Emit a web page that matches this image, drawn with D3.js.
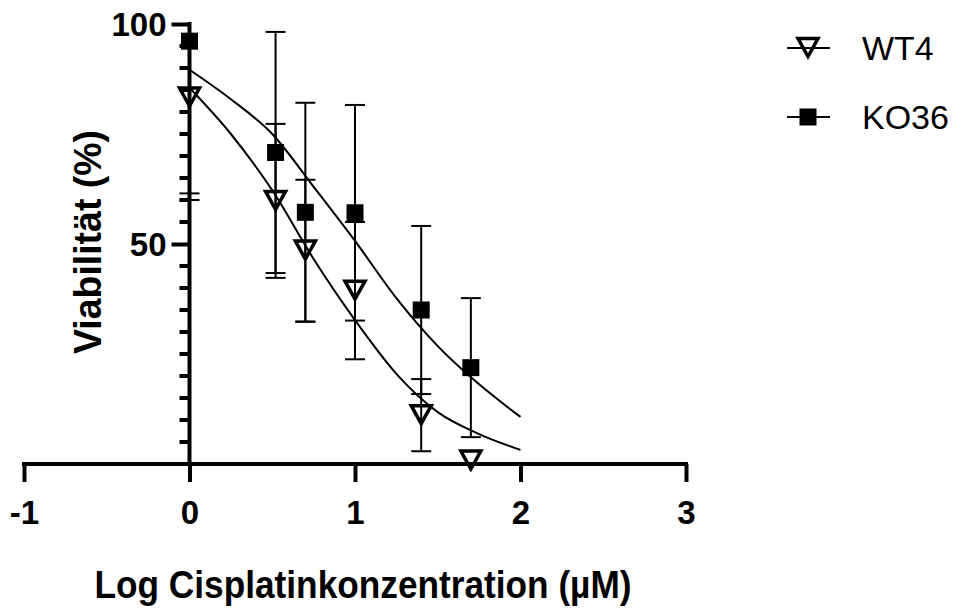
<!DOCTYPE html>
<html>
<head>
<meta charset="utf-8">
<script src="https://cdn.jsdelivr.net/npm/d3@7"></script>
<style>
  body { margin: 0; background: #fff; }
  text { font-family: Arial, "Liberation Sans", sans-serif; fill: #000; }
</style>
</head>
<body>
<svg id="chart" width="966" height="609"></svg>
<script>
// log cisplatin concentration (µM)
var logConc = [0, 0.52, 0.7, 1, 1.4, 1.7];
var wt4Mean = [83.3, 59.8, 48.5, 39.4, 11.1, 0.8];
var wt4Sd = [21.8, 17.5, 16.1, 15.6, 8.2, 0];
var ko36Mean = [96.1, 70.8, 57.2, 57.1, 35, 21.9];
var ko36Sd = [36.1, 27.4, 24.9, 24.5, 19.1, 15.8];

// fitted curves
var fitX = [0, 0.25, 0.5, 0.75, 1, 1.25, 1.5, 1.75, 2];
var wt4Fit = [85.5, 75, 62.2, 46.6, 32.7, 20.5, 11.8, 6.8, 3.2];
var ko36Fit = [89.6, 82.9, 75, 63, 50.7, 37.7, 26.8, 18.1, 10.7];

var xTicks = [-1, 0, 1, 2, 3];
var yMajor = [50, 100];
var yMinor = [5, 10, 15, 20, 25, 30, 35, 40, 45, 55, 60, 65, 70, 75, 80, 85, 90, 95];
var seriesNames = ["WT4", "KO36"];

var svg = d3.select("#chart");

var x = d3.scaleLinear().domain([-1, 3]).range([24, 686]);
var y = d3.scaleLinear().domain([0, 100]).range([464, 24]);

var tri = "M-10,-9.5L10,-9.5L0,8.5Z";

function drawTri(g, cx, cy) {
  g.append("path")
    .attr("d", tri)
    .attr("transform", "translate(" + cx + "," + cy + ")")
    .attr("fill", "none")
    .attr("stroke", "#000")
    .attr("stroke-width", 3.5)
    .attr("stroke-linejoin", "miter");
}

function drawSquare(g, cx, cy) {
  g.append("rect")
    .attr("x", cx - 8.5).attr("y", cy - 8.5)
    .attr("width", 17).attr("height", 17)
    .attr("fill", "#000");
}

// x axis
var xAxis = svg.append("g").attr("transform", "translate(0," + y(0) + ")")
  .call(d3.axisBottom(x).tickValues(xTicks).tickSize(18).tickSizeOuter(0).tickFormat(d3.format("d")));
xAxis.select(".domain").attr("stroke-width", 4).attr("d", "M" + (x(-1) - 2) + ",0H" + (x(3) + 2));
xAxis.selectAll(".tick line").attr("stroke-width", 4);
xAxis.selectAll(".tick text")
  .attr("y", 37).attr("dy", "0.71em")
  .style("font-size", "33px").style("font-weight", "bold")
  .text(function (d) { return d < 0 ? "-" + Math.abs(d) : d; });

// y axis
var yAxis = svg.append("g").attr("transform", "translate(" + x(0) + ",0)");
yAxis.call(d3.axisLeft(y).tickValues(yMajor).tickSize(18).tickSizeOuter(0).tickPadding(5));
yAxis.select(".domain").attr("stroke-width", 4).attr("d", "M0," + (y(100) - 2) + "V" + y(0));
yAxis.selectAll(".tick line").attr("stroke-width", 4);
yAxis.selectAll(".tick text")
  .attr("dy", "0.36em")
  .style("font-size", "33px").style("font-weight", "bold");
yAxis.selectAll(".minor").data(yMinor).enter().append("line")
  .attr("class", "minor")
  .attr("x1", -10).attr("x2", 0)
  .attr("y1", function (d) { return y(d); }).attr("y2", function (d) { return y(d); })
  .attr("stroke", "#000").attr("stroke-width", 4);

// fitted curves
var line = d3.line()
  .x(function (d) { return x(d[0]); })
  .y(function (d) { return y(d[1]); })
  .curve(d3.curveMonotoneX);

[wt4Fit, ko36Fit].forEach(function (fit) {
  svg.append("path")
    .datum(fitX.map(function (v, i) { return [v, fit[i]]; }))
    .attr("d", line)
    .attr("fill", "none")
    .attr("stroke", "#000")
    .attr("stroke-width", 2);
});

// error bars (clipped to the axis range)
function errorBars(means, sds) {
  var g = svg.append("g");
  logConc.forEach(function (c, i) {
    if (!sds[i]) return;
    var cx = x(c);
    var hi = means[i] + sds[i], lo = means[i] - sds[i];
    var yTop = y(Math.min(hi, 100)), yBot = y(Math.max(lo, 0));
    g.append("line").attr("x1", cx).attr("x2", cx).attr("y1", yTop).attr("y2", yBot)
      .attr("stroke", "#000").attr("stroke-width", 2);
    [hi, lo].forEach(function (v) {
      if (v > 100 || v < 0) return;
      g.append("line").attr("x1", cx - 10).attr("x2", cx + 10).attr("y1", y(v)).attr("y2", y(v))
        .attr("stroke", "#000").attr("stroke-width", 2);
    });
  });
}
errorBars(wt4Mean, wt4Sd);
errorBars(ko36Mean, ko36Sd);

// markers
var marks = svg.append("g");
logConc.forEach(function (c, i) {
  drawSquare(marks, x(c), y(ko36Mean[i]));
});
logConc.forEach(function (c, i) {
  drawTri(marks, x(c), y(wt4Mean[i]));
});

// axis titles
svg.append("text")
  .attr("x", 363).attr("y", 598)
  .attr("text-anchor", "middle")
  .attr("textLength", 537).attr("lengthAdjust", "spacingAndGlyphs")
  .style("font-size", "38px").style("font-weight", "bold")
  .text("Log Cisplatinkonzentration (µM)");

svg.append("text")
  .attr("transform", "translate(101,242) rotate(-90)")
  .attr("text-anchor", "middle")
  .attr("textLength", 224).attr("lengthAdjust", "spacingAndGlyphs")
  .style("font-size", "39px").style("font-weight", "bold")
  .text("Viabilität (%)");

// legend
var legend = svg.append("g");
seriesNames.forEach(function (name, i) {
  var ly = 48 + i * 69;
  legend.append("line").attr("x1", 787).attr("x2", 830).attr("y1", ly).attr("y2", ly)
    .attr("stroke", "#000").attr("stroke-width", 2);
  if (i === 0) drawTri(legend, 808, ly);
  else drawSquare(legend, 808, ly);
  legend.append("text")
    .attr("x", 862).attr("y", ly).attr("dy", "0.36em")
    .style("font-size", "34px")
    .text(name);
});
</script>
</body>
</html>
